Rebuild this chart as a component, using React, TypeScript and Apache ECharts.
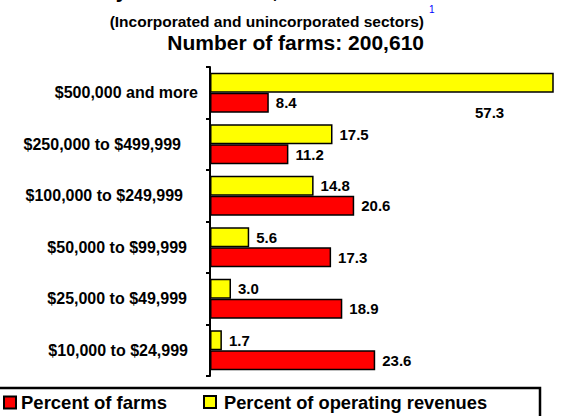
import React, { useEffect, useRef } from "react";
import * as echarts from "echarts";

const categories = [
  "$500,000 and more",
  "$250,000 to $499,999",
  "$100,000 to $249,999",
  "$50,000 to $99,999",
  "$25,000 to $49,999",
  "$10,000 to $24,999",
];
const percentFarms = [8.4, 11.2, 20.6, 17.3, 18.9, 23.6];
const percentRevenues = [57.3, 17.5, 14.8, 5.6, 3.0, 1.7];
const seriesNames = ["Percent of farms", "Percent of operating revenues"];

// label right-padding styles (visual only)
const labelPad = [0, 17, 15, 11, 11, 10];

const FONT = "'Liberation Sans', Arial, Helvetica, sans-serif";

export default function App() {
  const ref = useRef<HTMLDivElement>(null);

  useEffect(() => {
    if (!ref.current) return;
    const chart = echarts.init(ref.current, null, { renderer: "svg" });

    const rich: Record<string, any> = {};
    labelPad.forEach((p, i) => {
      rich["p" + i] = {
        fontFamily: FONT,
        fontWeight: "bold",
        fontSize: 16,
        color: "#000",
        padding: [0, p, 0, 0],
      };
    });

    const fmt = (p: any) => Number(p.value).toFixed(1);
    const labelBase = {
      show: true,
      position: "right",
      distance: 7,
      fontFamily: FONT,
      fontWeight: "bold",
      fontSize: 15,
      color: "#000",
      formatter: fmt,
    };

    const revenueData = percentRevenues.map((v, i) =>
      i === 0 ? { value: v, label: { position: [265, 32] } } : v
    );

    chart.setOption({
      animation: false,
      backgroundColor: "#fff",
      textStyle: { fontFamily: FONT },
      grid: { left: 210, right: 13, top: 67, bottom: 40 },
      xAxis: {
        type: "value",
        min: 0,
        max: 49,
        show: false,
      },
      yAxis: {
        type: "category",
        inverse: true,
        data: categories,
        axisLine: { show: true, lineStyle: { color: "#000", width: 2 } },
        axisTick: { show: true, length: 4, lineStyle: { color: "#000", width: 2 } },
        axisLabel: {
          margin: 12,
          fontFamily: FONT,
          fontWeight: "bold",
          fontSize: 16,
          color: "#000",
          formatter: (val: string) => {
            const i = categories.indexOf(val);
            return "{p" + i + "|" + val + "}";
          },
          rich,
        },
        splitLine: { show: false },
      },
      legend: [
        {
          data: [seriesNames[0]],
          left: 3,
          top: 393,
          padding: 0,
          itemWidth: 12,
          itemHeight: 12,
          icon: "rect",
          textStyle: { fontFamily: FONT, fontWeight: "bold", fontSize: 18.5, color: "#000" },
        },
        {
          data: [seriesNames[1]],
          left: 203,
          top: 393,
          padding: 0,
          itemWidth: 12,
          itemHeight: 12,
          icon: "rect",
          textStyle: {
            fontFamily: FONT,
            fontWeight: "bold",
            fontSize: 18.3,
            color: "#000",
            padding: [0, 0, 0, 3],
          },
        },
      ],
      series: [
        {
          name: seriesNames[1],
          type: "bar",
          data: revenueData,
          barWidth: 20,
          barGap: "0%",
          itemStyle: { color: "#ffff00", borderColor: "#000", borderWidth: 1.5 },
          label: labelBase,
        },
        {
          name: seriesNames[0],
          type: "bar",
          data: percentFarms,
          barWidth: 20,
          barGap: "0%",
          itemStyle: { color: "#ff0000", borderColor: "#000", borderWidth: 1.5 },
          label: labelBase,
        },
      ],
      graphic: [
        {
          type: "text",
          x: 103,
          y: -10,
          style: {
            text: "by revenue class, 1995",
            font: `bold 21px ${FONT}`,
            fill: "#000",
            textAlign: "left",
            textVerticalAlign: "middle",
          },
        },
        {
          type: "text",
          x: 424,
          y: 21,
          style: {
            text: "(Incorporated and unincorporated sectors)",
            font: `bold 15.5px ${FONT}`,
            fill: "#000",
            textAlign: "right",
            textVerticalAlign: "middle",
          },
        },
        {
          type: "text",
          x: 429,
          y: 9.5,
          style: {
            text: "1",
            font: `10px ${FONT}`,
            fill: "#0000ff",
            textAlign: "left",
            textVerticalAlign: "middle",
          },
        },
        {
          type: "text",
          x: 424,
          y: 42,
          style: {
            text: "Number of farms: 200,610",
            font: `bold 21px ${FONT}`,
            fill: "#000",
            textAlign: "right",
            textVerticalAlign: "middle",
          },
        },
        {
          type: "rect",
          shape: { x: -2, y: 388, width: 542, height: 40 },
          style: { fill: "none", stroke: "#000", lineWidth: 2.5 },
        },
      ],
    });

    return () => chart.dispose();
  }, []);

  return (
    <div
      ref={ref}
      style={{ position: "fixed", left: 0, top: 0, width: 566, height: 416 }}
    />
  );
}
